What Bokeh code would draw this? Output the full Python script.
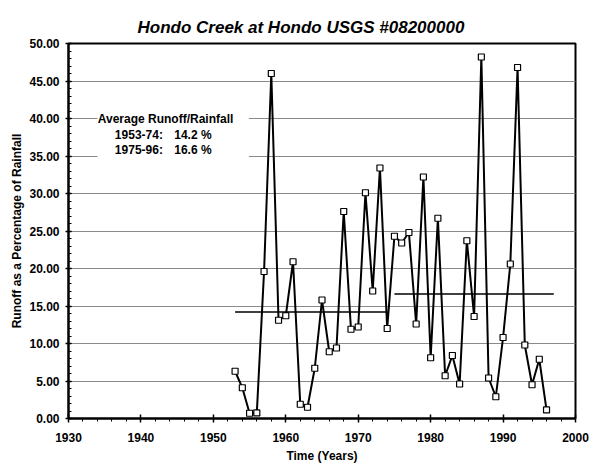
from bokeh.plotting import figure
from bokeh.models import (Range1d, SingleIntervalTicker, PrintfTickFormatter,
                          Label, BoxAnnotation, Title)
from bokeh.embed import file_html
from bokeh.resources import INLINE

# ---- data ----
years = list(range(1953, 1997))
runoff_pct = [6.3, 4.1, 0.7, 0.75, 19.6, 46.0, 13.1, 13.7, 20.9, 1.9,
              1.5, 6.7, 15.8, 8.9, 9.4, 27.6, 11.9, 12.2, 30.1, 17.0,
              33.4, 12.0, 24.3, 23.4, 24.8, 12.6, 32.2, 8.1, 26.7, 5.7,
              8.4, 4.6, 23.7, 13.6, 48.2, 5.4, 2.9, 10.8, 20.6, 46.8,
              9.8, 4.5, 7.9, 1.15]
mean_periods = ["1953-74:", "1975-96:"]
mean_values = [14.2, 16.6]
mean_x_start = [1953, 1975]
mean_x_end = [1974, 1997]
title_text = "Hondo Creek at Hondo USGS #08200000"

FONT = "Liberation Sans"

p = figure(frame_width=507, frame_height=375,
           min_border_left=68, min_border_right=20,
           min_border_top=43, min_border_bottom=46,
           x_range=Range1d(1930, 2000), y_range=Range1d(0, 50),
           output_backend="svg", toolbar_location=None,
           background_fill_color="white", border_fill_color="white")

p.title = Title(text=title_text, align="left", vertical_align="top",
                text_font=FONT, text_font_size="17px",
                text_font_style="bold italic", text_color="black",
                standoff=9, offset=69)

p.outline_line_color = "black"
p.outline_line_width = 2
p.outline_line_alpha = 1

# axes
p.xaxis.ticker = SingleIntervalTicker(interval=10, num_minor_ticks=5)
p.yaxis.ticker = SingleIntervalTicker(interval=5, num_minor_ticks=5)
p.yaxis.formatter = PrintfTickFormatter(format="%.2f")
p.xaxis.formatter = PrintfTickFormatter(format="%d")
p.xaxis.axis_label = "Time (Years)"
p.yaxis.axis_label = "Runoff as a Percentage of Rainfall"

for ax in (p.xaxis[0], p.yaxis[0]):
    ax.axis_line_color = "black"
    ax.axis_line_width = 2
    ax.major_tick_line_color = "black"
    ax.major_tick_line_width = 1.5
    ax.minor_tick_line_color = "black"
    ax.minor_tick_line_width = 1
    ax.major_label_text_font = FONT
    ax.major_label_text_font_size = "12px"
    ax.major_label_text_font_style = "bold"
    ax.major_label_text_color = "black"
    ax.axis_label_text_font = FONT
    ax.axis_label_text_font_size = "12px"
    ax.axis_label_text_font_style = "bold"
    ax.axis_label_text_color = "black"

p.xaxis.major_tick_in = 4
p.xaxis.major_tick_out = 4
p.xaxis.minor_tick_in = 0
p.xaxis.minor_tick_out = 3
p.xaxis.major_label_standoff = 10
p.xaxis.axis_label_standoff = 4

p.yaxis.major_tick_in = 3
p.yaxis.major_tick_out = 3
p.yaxis.minor_tick_in = 3
p.yaxis.minor_tick_out = 0
p.yaxis.major_label_standoff = 6
p.yaxis.axis_label_standoff = 2

p.xgrid.visible = False
p.ygrid.grid_line_color = "#8a8a8a"
p.ygrid.grid_line_width = 1

# data
p.line(years, runoff_pct, line_color="black", line_width=2)
p.scatter(years, runoff_pct, marker="square", size=6,
          fill_color="white", line_color="black", line_width=1.2)

# mean lines
for xs, xe, m in zip(mean_x_start, mean_x_end, mean_values):
    p.line([xs, xe], [m, m], line_color="black", line_width=1.6)

# annotation box
p.add_layout(BoxAnnotation(left=1934.0, right=1954.9, bottom=34.4, top=41.4,
                           fill_color="white", fill_alpha=1.0,
                           line_alpha=0))
p.add_layout(Label(x=1943.4, y=40.0, text="Average Runoff/Rainfall",
                   text_align="center", text_baseline="middle",
                   text_font=FONT, text_font_size="12px",
                   text_font_style="bold", text_color="black"))
for i, (per, m) in enumerate(zip(mean_periods, mean_values)):
    yy = 37.85 - 2.1 * i
    p.add_layout(Label(x=1936.4, y=yy, text=per, text_align="left",
                       text_baseline="middle", text_font=FONT,
                       text_font_size="12px", text_font_style="bold",
                       text_color="black"))
    p.add_layout(Label(x=1944.6, y=yy, text=f"{m:.1f} %", text_align="left",
                       text_baseline="middle", text_font=FONT,
                       text_font_size="12px", text_font_style="bold",
                       text_color="black"))

open("out.html", "w").write(file_html(p, INLINE))
